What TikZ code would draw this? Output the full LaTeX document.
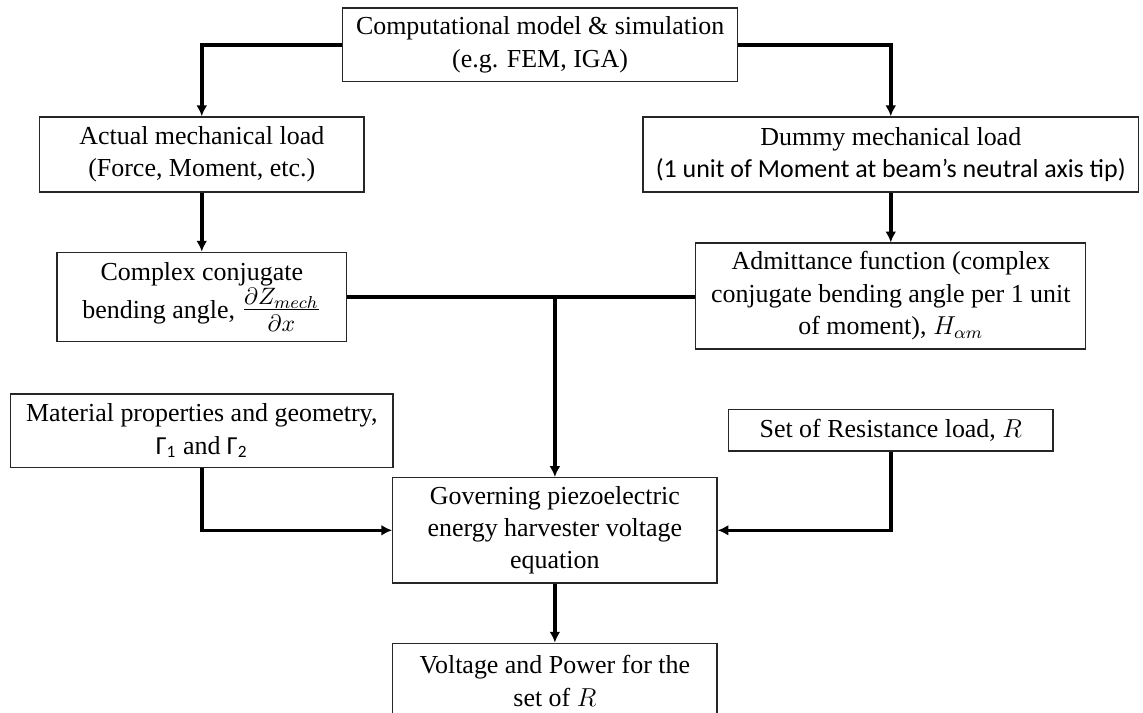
\documentclass[tikz,border=0pt]{standalone}
\usepackage{fontspec}
\setmainfont{Liberation Serif}
\newfontfamily\calibri{Carlito}
\usetikzlibrary{positioning, arrows.meta}

\begin{document}
\begin{tikzpicture}
    [
      font=\fontsize{12}{15}\selectfont,
      box/.style = {shape=rectangle, draw=black!85, line width=0.6pt, align=center, inner sep=0pt},
      conn/.style = {line width=1.6pt, -{Latex[length=5pt, width=5pt]}},
      link/.style = {line width=1.6pt}
    ]

    \useasboundingbox (0,0) rectangle (18.58,-11.59);

    \node[box, minimum width=6.42cm, minimum height=1.2cm] (comp) at (8.78,-0.73)
      {Computational model \& simulation\\(e.g. FEM, IGA)};
    \node[box, minimum width=5.27cm, minimum height=1.22cm] (actual) at (3.28,-2.51)
      {Actual mechanical load\\(Force, Moment, etc.)};
    \node[box, minimum width=8.06cm, minimum height=1.22cm] (dummy) at (14.48,-2.51)
      {Dummy mechanical load\\{\calibri (1 unit of Moment at beam’s neutral axis tip)}};
    \node[box, minimum width=4.71cm, minimum height=1.45cm, below=0.96cm of actual] (complex)
      {Complex conjugate\\bending angle, {\fontsize{16}{15}\selectfont$\frac{\partial Z_{mech}}{\partial x}$}};
    \node[box, minimum width=6.34cm, minimum height=1.72cm, below=0.81cm of dummy] (admit)
      {Admittance function (complex\\conjugate bending angle per 1 unit\\of moment), $H_{\alpha m}$};
    \node[box, minimum width=6.22cm, minimum height=1.2cm, below=0.83cm of complex] (material)
      {Material properties and geometry,\\{\calibri Γ\textsubscript{1}} and {\calibri Γ\textsubscript{2}}};
    \node[box, minimum width=5.27cm, minimum height=0.68cm, below=0.96cm of admit] (resist)
      {Set of Resistance load, $R$};
    \node[box, minimum width=5.27cm, minimum height=1.71cm] (gov) at (9.02,-8.62)
      {Governing piezoelectric\\energy harvester voltage\\equation};
    \node[box, minimum width=5.27cm, minimum height=1.22cm, below=0.96cm of gov] (volt)
      {Voltage and Power for the\\set of $R$};

    \coordinate (join) at (complex.east -| gov.north);

    \draw[conn] (comp.west) -| (actual.north);
    \draw[conn] (comp.east) -| (dummy.north);
    \draw[conn] (actual) -- (complex);
    \draw[conn] (dummy) -- (admit);
    \draw[link] (complex.east) -- (complex.east -| admit.west);
    \draw[conn] (join) -- (gov.north);
    \draw[conn] (material.south) |- (gov.west);
    \draw[conn] (resist.south) |- (gov.east);
    \draw[conn] (gov) -- (volt);
\end{tikzpicture}
\end{document}
